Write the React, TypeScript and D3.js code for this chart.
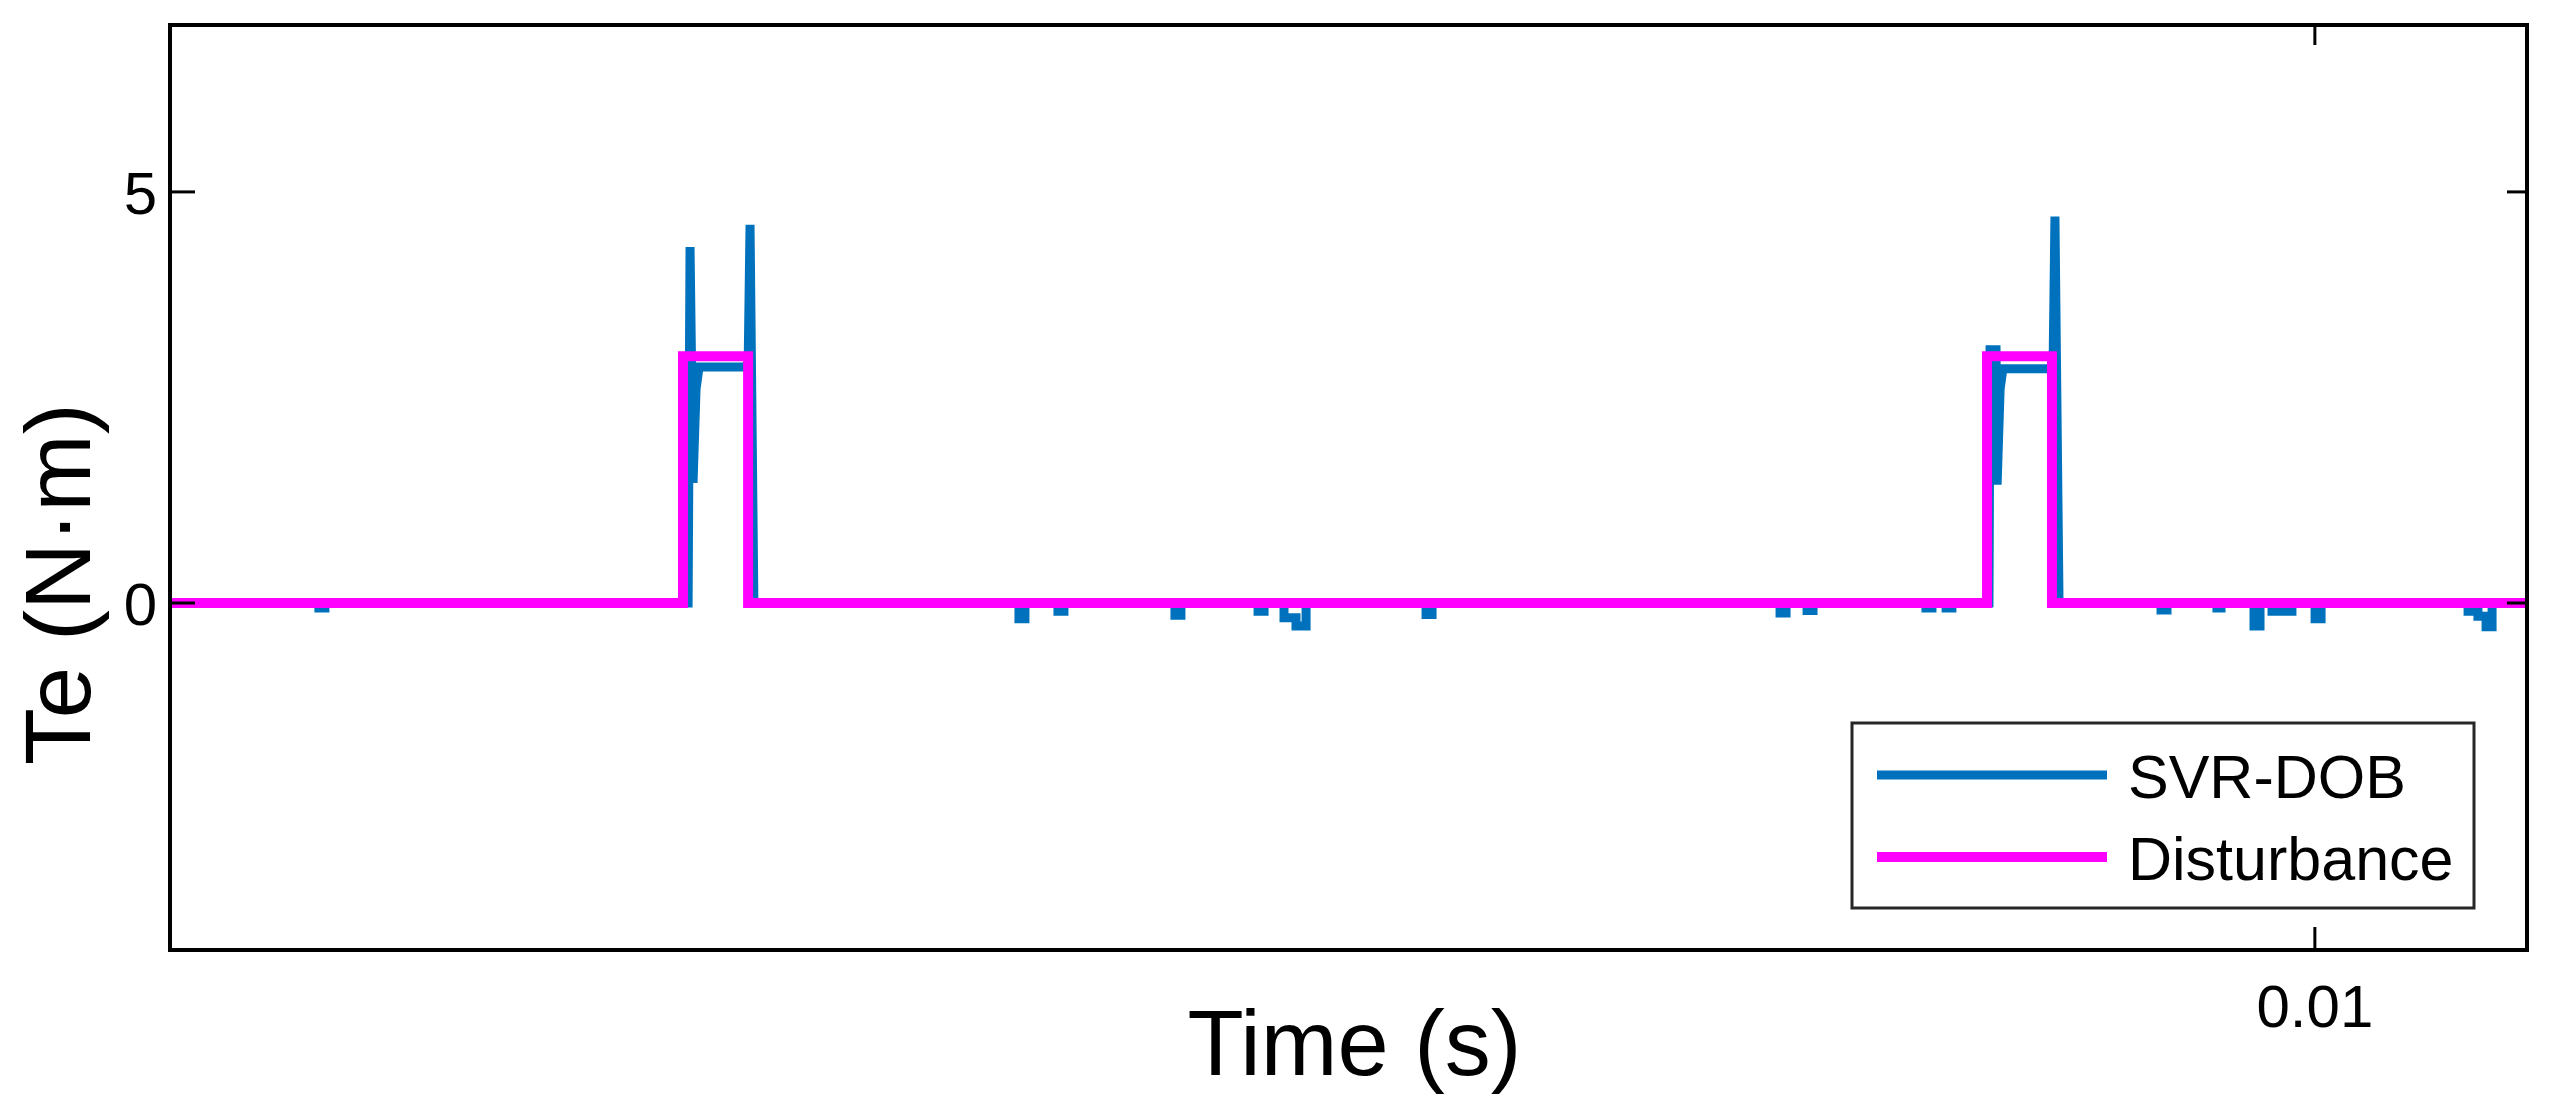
import React from "react";
import * as d3 from "d3";

// ---- data (time in seconds, torque in N·m), chronological ----
const svrT: number[] = [
  0.008999,
  0.0090685, 0.0090685, 0.0090713, 0.0090713,
  0.0092408, 0.0092417, 0.0092431, 0.0092445, 0.0092459,
  0.0092688, 0.0092697, 0.0092715,
  0.0093952, 0.0093952, 0.009398, 0.009398,
  0.0094134, 0.0094134, 0.0094162, 0.0094162,
  0.009468, 0.009468, 0.0094708, 0.0094708,
  0.0095068, 0.0095068, 0.0095096, 0.0095096,
  0.0095189, 0.0095189, 0.0095245, 0.0095245, 0.0095292, 0.0095292,
  0.0095852, 0.0095852, 0.009588, 0.009588,
  0.0097504, 0.0097504, 0.0097532, 0.0097532,
  0.009763, 0.009763, 0.0097658, 0.0097658,
  0.0098185, 0.0098185, 0.0098213, 0.0098213,
  0.0098279, 0.0098279, 0.0098306, 0.0098306,
  0.0098479, 0.0098484, 0.0098512, 0.0098517, 0.0098531, 0.0098544,
  0.0098778, 0.0098787, 0.0098806,
  0.0099282, 0.0099282, 0.009931, 0.009931,
  0.0099543, 0.0099543, 0.0099562, 0.0099562,
  0.0099716, 0.0099716, 0.0099744, 0.0099744,
  0.00998, 0.00998, 0.0099893, 0.0099893,
  0.0100001, 0.0100001, 0.0100029, 0.0100029,
  0.0100715, 0.0100715, 0.0100761, 0.0100761, 0.0100799, 0.0100799, 0.0100827, 0.0100827,
  0.010099,
];
const svrV: number[] = [
  0,
  0, -0.06, -0.06, 0,
  0, 4.33, 1.46, 2.6, 2.87,
  2.87, 4.6, 0,
  0, -0.19, -0.19, 0,
  0, -0.1, -0.1, 0,
  0, -0.15, -0.15, 0,
  0, -0.1, -0.1, 0,
  0, -0.18, -0.18, -0.28, -0.28, 0,
  0, -0.14, -0.14, 0,
  0, -0.12, -0.12, 0,
  0, -0.09, -0.09, 0,
  0, -0.06, -0.06, 0,
  0, -0.06, -0.06, 0,
  0, 3.08, 3.08, 1.44, 2.6, 2.85,
  2.85, 4.7, 0,
  0, -0.085, -0.085, 0,
  0, -0.06, -0.06, 0,
  0, -0.28, -0.28, 0,
  0, -0.1, -0.1, 0,
  0, -0.19, -0.19, 0,
  0, -0.1, -0.1, -0.16, -0.16, -0.29, -0.29, 0,
  0,
];

const distT: number[] = [
  0.008999, 0.0092384, 0.0092384, 0.0092688, 0.0092688,
  0.009847, 0.009847, 0.0098773, 0.0098773, 0.010099,
];
const distV: number[] = [0, 0, 3, 3, 0, 0, 3, 3, 0, 0];

const xDomain: [number, number] = [0.008999, 0.010099];
const yDomain: [number, number] = [-4.22, 7.03];
const xTicks: number[] = [0.01];
const xTickLabels: string[] = ["0.01"];
const yTicks: number[] = [0, 5];
const yTickLabels: string[] = ["0", "5"];
const seriesNames: string[] = ["SVR-DOB", "Disturbance"];

const W = 2556;
const H = 1109;
const L = 170;
const R = 2527;
const T = 25;
const B = 950;
const FONT = "'Liberation Sans', Arial, Helvetica, sans-serif";
const BLUE = "#0072BD";
const MAG = "#FF00FF";

export default function App() {
  const x = d3.scaleLinear().domain(xDomain).range([L, R]);
  const y = d3.scaleLinear().domain(yDomain).range([B, T]);
  const line = d3
    .line<[number, number]>()
    .x((d) => x(d[0]))
    .y((d) => y(d[1]));
  const svrPts: [number, number][] = svrT.map((t, i) => [t, svrV[i]]);
  const distPts: [number, number][] = distT.map((t, i) => [t, distV[i]]);

  return (
    <svg
      width={W}
      height={H}
      style={{ position: "absolute", left: 0, top: 0, background: "#fff" }}
      fontFamily={FONT}
    >
      <rect x={0} y={0} width={W} height={H} fill="#fff" />
      <defs>
        <clipPath id="plotclip">
          <rect x={L} y={T} width={R - L} height={B - T} />
        </clipPath>
      </defs>
      <g clipPath="url(#plotclip)">
        <path
          d={line(svrPts) || ""}
          fill="none"
          stroke={BLUE}
          strokeWidth={9}
          strokeLinejoin="miter"
        />
        <path
          d={line(distPts) || ""}
          fill="none"
          stroke={MAG}
          strokeWidth={10}
          strokeLinejoin="miter"
        />
      </g>
      {/* axes box */}
      <rect x={L} y={T} width={R - L} height={B - T} fill="none" stroke="#000" strokeWidth={4} />
      {/* y ticks */}
      {yTicks.map((v, i) => (
        <g key={"yt" + i}>
          <line x1={L} x2={L + 25} y1={y(v)} y2={y(v)} stroke="#000" strokeWidth={3} />
          <line x1={R - 20} x2={R} y1={y(v)} y2={y(v)} stroke="#000" strokeWidth={3} />
          <text x={L - 13} y={y(v)} dy="0.36em" textAnchor="end" fontSize={60} fill="#000">
            {yTickLabels[i]}
          </text>
        </g>
      ))}
      {/* x ticks */}
      {xTicks.map((v, i) => (
        <g key={"xt" + i}>
          <line x1={x(v)} x2={x(v)} y1={B} y2={B - 23} stroke="#000" strokeWidth={3} />
          <line x1={x(v)} x2={x(v)} y1={T} y2={T + 20} stroke="#000" strokeWidth={3} />
          <text x={x(v)} y={1027} textAnchor="middle" fontSize={60} fill="#000">
            {xTickLabels[i]}
          </text>
        </g>
      ))}
      {/* axis labels */}
      <text x={(L + R) / 2 + 6} y={1075} textAnchor="middle" fontSize={92} fill="#000">
        Time (s)
      </text>
      <text
        transform={`translate(90,765) rotate(-90)`}
        textAnchor="start"
        fontSize={93}
        fill="#000"
      >
        Te (N·m)
      </text>
      {/* legend */}
      <rect x={1852} y={723} width={622} height={185} fill="#fff" stroke="#262626" strokeWidth={3} />
      <line x1={1877} x2={2107} y1={775} y2={775} stroke={BLUE} strokeWidth={9} />
      <text x={2128} y={798} fontSize={61} fill="#000">
        {seriesNames[0]}
      </text>
      <line x1={1877} x2={2107} y1={857} y2={857} stroke={MAG} strokeWidth={10} />
      <text x={2128} y={880} fontSize={61} fill="#000">
        {seriesNames[1]}
      </text>
    </svg>
  );
}
